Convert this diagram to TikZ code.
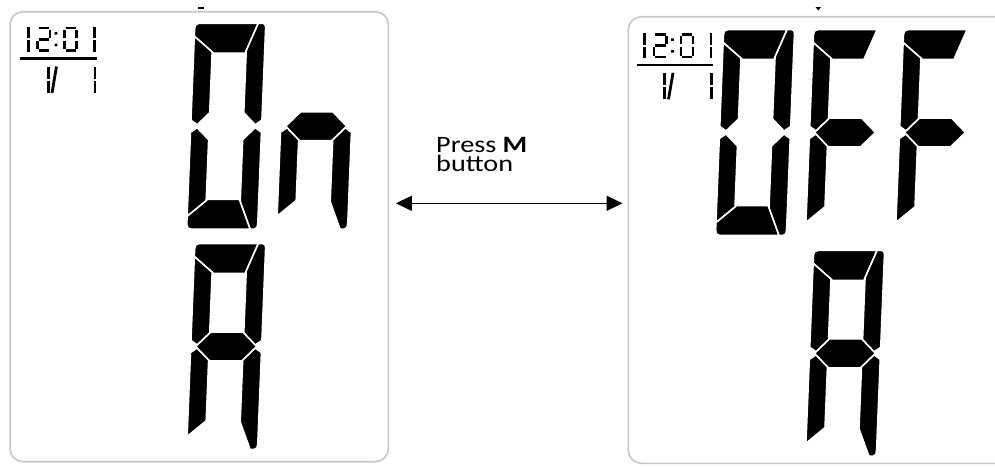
\documentclass[tikz,border=0pt]{standalone}
\usepackage{fontspec}
\newfontfamily\calibrifont{Carlito}
\usetikzlibrary{arrows.meta}

\tikzset{
  segment/.style={fill=black, draw=white, line width=1.6pt, line join=round},
  smallseg/.style={draw=black, line width=2.8pt},
  panel/.style={draw=black!22, line width=1.6pt, rounded corners=13pt, inner sep=0pt},
  twoway/.style={<->, >={Triangle[length=16pt,width=15pt]}, line width=1.4pt},
  presstext/.style={font=\calibrifont\fontsize{23.5}{19.8}\selectfont, align=left, inner sep=0pt, xscale=1.2}
}

\newcommand{\sega}{\filldraw[segment] (-35.5,-90) -- (-35.5,-93) .. controls (-35.5,-103) .. (-25.5,-103) -- (28,-103) -- (16,-73) -- (-15.5,-73) -- cycle;}
\newcommand{\segb}{\filldraw[segment] (28,-103) .. controls (35.5,-103) .. (35.5,-95) -- (35.5,-6) -- (29,-1.5) -- (17,-13.5) -- (17,-75.5) -- cycle;}
\newcommand{\segc}{\filldraw[segment] (35.5,6) -- (35.5,91) .. controls (35.5,103) .. (28,103) -- (17,75.5) -- (17,13.5) -- (29,1.5) -- cycle;}
\newcommand{\segd}{\filldraw[segment] (-35.5,90) -- (-15.5,73) -- (16,73) -- (28,103) -- (-25.5,103) .. controls (-35.5,103) .. (-35.5,93) -- cycle;}
\newcommand{\sege}{\filldraw[segment] (-35.5,6) -- (-29,1.5) -- (-17,13.5) -- (-17,74.3) -- (-35.5,90) -- cycle;}
\newcommand{\segf}{\filldraw[segment] (-35.5,-90) -- (-17,-74.3) -- (-17,-13.5) -- (-29,-1.5) -- (-35.5,-6) -- cycle;}
\newcommand{\segg}{\filldraw[segment] (-30.5,0) -- (-16,-14.5) -- (16,-14.5) -- (30.5,0) -- (16,14.5) -- (-16,14.5) -- cycle;}

\newcommand{\lcddigit}[3]{%
  \begin{scope}[shift={(#1,#2)},xslant=0.04]
    \foreach \sg in {#3} {\csname seg\sg\endcsname}
  \end{scope}}

\newcommand{\lcdclock}[2]{%
  \begin{scope}[shift={(#1,#2)}]
    \draw[smallseg] (28.3,27) -- (28.3,38.3) (28.3,40.3) -- (28.3,51.5);
    \draw[smallseg] (38.5,28) -- (49,28) (50,29.5) -- (50,37.8) (38.5,39.3) -- (49,39.3) (37.5,40.8) -- (37.5,49.3) (38.5,50.6) -- (49,50.6);
    \fill (54.7,32) rectangle ++(2.6,2.6) (54.7,43.7) rectangle ++(2.6,2.6);
    \draw[smallseg] (65.5,28) -- (75.5,28) (64.5,29.5) -- (64.5,38) (76.5,29.5) -- (76.5,38) (64.5,40.8) -- (64.5,49.3) (76.5,40.8) -- (76.5,49.3) (65.5,50.6) -- (75.5,50.6);
    \draw[smallseg] (94.5,27) -- (94.5,38.3) (94.5,40.3) -- (94.5,51.5);
    \draw[black, line width=2.6pt] (20,58.7) -- (96.5,58.7);
    \draw[smallseg] (48.3,66.5) -- (48.3,78.8) (48.3,80.8) -- (48.3,93);
    \draw[smallseg] (52,93) -- (56.5,66.5);
    \draw[smallseg] (95,66.5) -- (95,78.8) (95,80.8) -- (95,93);
  \end{scope}}

\begin{document}
\begin{tikzpicture}[x=1pt,y=-1pt]
\useasboundingbox (0,0) rectangle (995,466);
\clip (0,0) rectangle (995,466);
\node[panel, minimum width=378.3pt, minimum height=450pt] (lcdon) at (199.2,236.7) {};
\node[panel, minimum width=380pt, minimum height=446.6pt] (lcdoff) at (818.3,240) {};
\fill (198,6.5) rectangle (204,8.5);
\fill (815.5,7) -- (821,7) -- (818.3,10.5) -- cycle;
\lcdclock{0}{0}
\lcdclock{616.5}{6.3}
\lcddigit{226.2}{126.2}{a,b,c,d,e,f}
\lcddigit{316.2}{126.2}{c,e,g}
\lcddigit{226.2}{346.5}{a,b,c,e,f,g}
\lcddigit{755}{132.5}{a,b,c,d,e,f}
\lcddigit{845}{132.5}{a,e,f,g}
\lcddigit{935}{132.5}{a,e,f,g}
\lcddigit{845}{353.3}{a,b,c,e,f,g}
\coordinate (pressy) at (0,203.3);
\draw[twoway, shorten <=6.7pt, shorten >=5pt] (lcdon.east |- pressy) -- (lcdoff.west |- pressy);
\node[presstext, anchor=north west] (pressm) at (436,136.7) {Press \textbf{M}\\button};
\end{tikzpicture}
\end{document}
